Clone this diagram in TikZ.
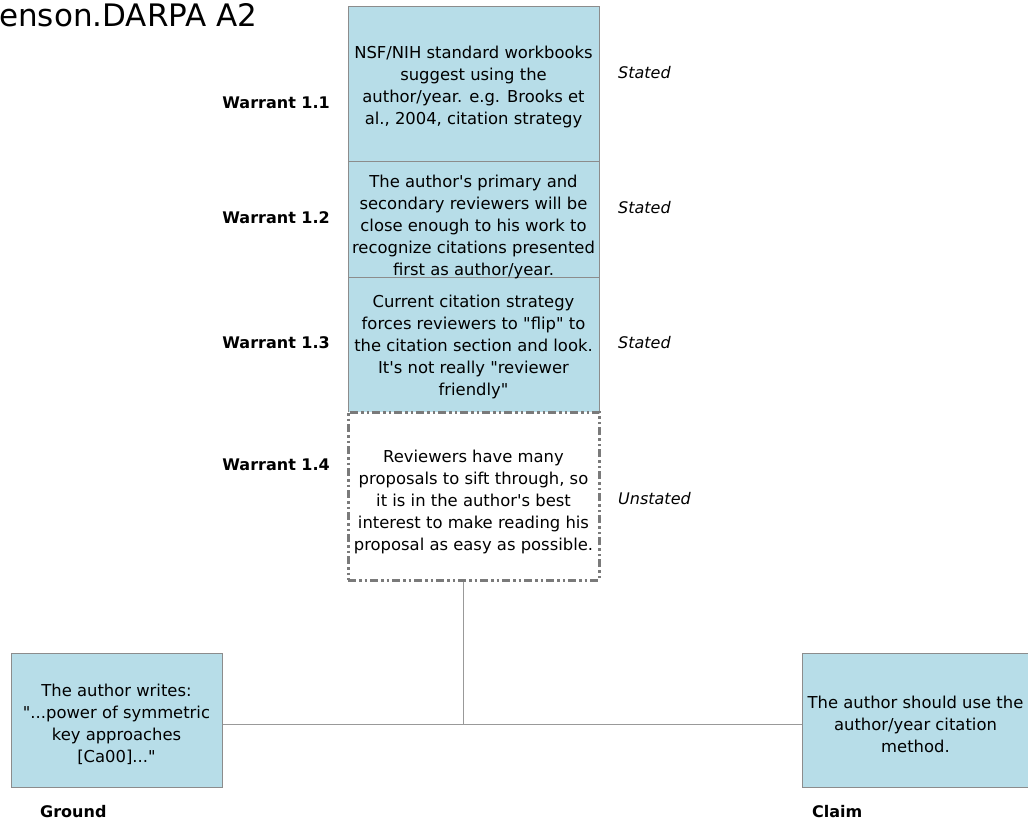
\documentclass[tikz,border=0pt]{standalone}
\usepackage{fontspec}
\setmainfont{DejaVu Sans}
\definecolor{boxfill}{HTML}{B7DDE8}
\definecolor{boxline}{HTML}{8C8C8C}
\definecolor{dashline}{HTML}{7A7A7A}
\definecolor{linkline}{HTML}{999999}
\begin{document}
\begin{tikzpicture}[x=1pt,y=-1pt,
  txt/.style={font=\fontsize{16.4}{22}\selectfont, align=center, inner sep=0pt},
  box/.style={draw=boxline, fill=boxfill, line width=1pt,
    minimum width=251pt, inner sep=0pt},
  openbox/.style={draw=dashline, fill=white, line width=3pt,
    dash pattern=on 8pt off 3pt on 2.5pt off 3pt on 2.5pt off 3pt,
    minimum width=251pt, inner sep=0pt},
  wlabel/.style={font=\fontsize{16}{22}\selectfont\bfseries, anchor=east, inner sep=0pt},
  slabel/.style={font=\fontsize{16}{22}\selectfont\itshape, anchor=west, inner sep=0pt},
  rlabel/.style={font=\fontsize{16}{22}\selectfont\bfseries, anchor=west, inner sep=0pt},
  link/.style={draw=linkline, line width=1pt}]
\useasboundingbox (0,0) rectangle (1028,821);
\clip (0,0) rectangle (1028,821);

% title
\node[anchor=base west, inner sep=0pt, font=\fontsize{31}{36}\selectfont] (title) at (-1,27) {enson.DARPA A2};

% warrant stack: boxes
\node[box, minimum height=155pt] (w1) at (473.5,84.5) {};
\node[box, minimum height=115pt] (w2) at (473.5,219.5) {};
\node[box, minimum height=135pt] (w3) at (473.5,344.5) {};
\node[openbox, minimum height=168pt] (w4) at (473.5,496) {};

% warrant stack: texts
\node[txt] (w1t) at (473.5,86.5)
  {NSF/NIH standard workbooks\\suggest using the\\author/year. e.g. Brooks et\\al., 2004, citation strategy};
\node[txt] (w2t) at (473.5,226.5)
  {The author\textquotesingle s primary and\\secondary reviewers will be\\close enough to his work to\\recognize citations presented\\first as author/year.};
\node[txt] (w3t) at (473.5,346.5)
  {Current citation strategy\\forces reviewers to \textquotedbl flip\textquotedbl{} to\\the citation section and look.\\It\textquotesingle s not really \textquotedbl reviewer\\friendly\textquotedbl};
\node[txt] (w4t) at (473.5,502)
  {Reviewers have many\\proposals to sift through, so\\it is in the author\textquotesingle s best\\interest to make reading his\\proposal as easy as possible.};

% warrant names
\node[wlabel] (l1) at (330,103) {Warrant 1.1};
\node[wlabel] (l2) at (330,218) {Warrant 1.2};
\node[wlabel] (l3) at (330,343) {Warrant 1.3};
\node[wlabel] (l4) at (330,465) {Warrant 1.4};

% stated / unstated
\node[slabel] (s1) at (618,73) {Stated};
\node[slabel] (s2) at (618,208) {Stated};
\node[slabel] (s3) at (618,343) {Stated};
\node[slabel] (s4) at (618,499) {Unstated};

% ground and claim
\node[box, minimum width=211pt, minimum height=134pt] (ground) at (116.5,720) {};
\node[txt] (groundt) at (116.5,724)
  {The author writes:\\\textquotedbl...power of symmetric\\key approaches\\{}[Ca00]...\textquotedbl};
\node[box, minimum width=230pt, minimum height=134pt] (claim) at (917,720) {};
\node[txt] (claimt) at (915.5,724)
  {The author should use the\\author/year citation\\method.};
\node[rlabel] (gl) at (40,812) {Ground};
\node[rlabel] (cl) at (812,812) {Claim};

% connectors
\coordinate (j) at (463,724);
\draw[link] (w4.south -| j) -- (j);
\draw[link] (ground.east |- j) -- (claim.west |- j);
\end{tikzpicture}
\end{document}
